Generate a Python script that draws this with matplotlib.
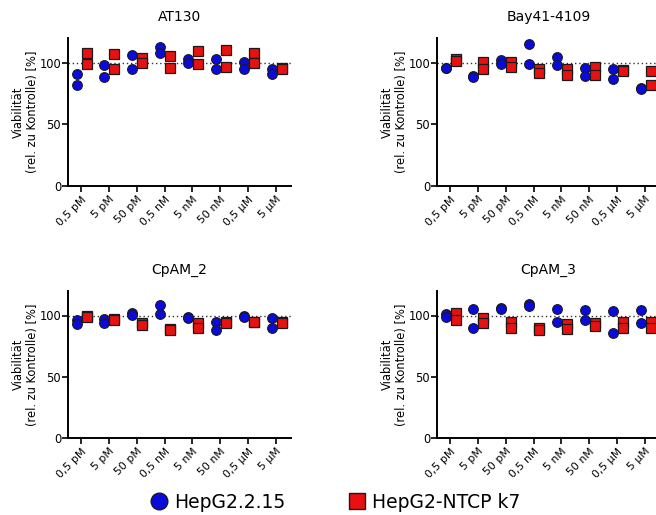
import matplotlib
matplotlib.use("Agg")
import matplotlib.pyplot as plt
from matplotlib.lines import Line2D
import numpy as np

plt.rcParams['font.family'] = ['DejaVu Sans']

concentrations = ["0,5 pM", "5 pM", "50 pM", "0,5 nM", "5 nM", "50 nM", "0,5 µM", "5 µM"]
series_names = ["HepG2.2.15", "HepG2-NTCP k7"]

# replicate values per concentration (two replicates each)
at130_hepg2215 = [[90.8, 82.1], [98.4, 88.6], [106.5, 95.1], [112.8, 107.6],
                  [102.7, 99.7], [102.7, 94.8], [100.5, 94.6], [94.6, 91.1]]
at130_ntcp = [[107.9, 98.9], [107.0, 94.6], [103.8, 99.4], [105.4, 95.9],
              [109.2, 98.9], [110.0, 96.2], [107.9, 100.0], [95.6, 94.6]]

bay_hepg2215 = [[96.0, 95.4], [89.0, 88.4], [101.9, 98.9], [115.2, 98.9],
                [104.6, 97.8], [95.4, 89.2], [95.1, 87.0], [79.7, 78.9]]
bay_ntcp = [[103.0, 101.4], [100.2, 94.6], [100.5, 96.2], [94.6, 91.3],
            [95.1, 89.7], [96.5, 90.2], [94.0, 93.4], [93.5, 82.1]]

cpam2_hepg2215 = [[96.4, 92.9], [97.3, 93.5], [102.4, 100.5], [108.9, 101.0],
                  [98.9, 97.8], [94.8, 88.0], [99.5, 98.4], [97.6, 89.4]]
cpam2_ntcp = [[99.2, 98.6], [97.0, 96.4], [94.0, 91.9], [89.1, 87.8],
              [94.0, 89.7], [94.3, 93.8], [95.1, 94.6], [94.6, 94.0]]

cpam3_hepg2215 = [[101.4, 98.4], [105.2, 90.0], [106.3, 104.9], [109.5, 107.6],
                  [105.2, 95.1], [104.4, 96.2], [103.8, 85.7], [104.1, 94.0]]
cpam3_ntcp = [[102.2, 96.0], [97.9, 93.5], [95.1, 90.2], [89.8, 87.8],
              [93.3, 88.6], [93.5, 91.4], [95.1, 89.8], [94.6, 89.8]]

panels = [
    ("AT130", at130_hepg2215, at130_ntcp),
    ("Bay41-4109", bay_hepg2215, bay_ntcp),
    ("CpAM_2", cpam2_hepg2215, cpam2_ntcp),
    ("CpAM_3", cpam3_hepg2215, cpam3_ntcp),
]

W, H = 656, 515
fig = plt.figure(figsize=(W / 100, H / 100), dpi=100)

# axes boxes in pixels: (left, top, right, bottom)
boxes = [(68, 38, 291, 186), (437, 38, 660, 186),
         (68, 291, 291, 438), (437, 291, 660, 438)]

blue = "#0a0adc"
red = "#e81010"
edge = "#1a1a1a"

for (title, s1, s2), (l, t, r, b) in zip(panels, boxes):
    ax = fig.add_axes([l / W, (H - b) / H, (r - l) / W, (b - t) / H])
    x = np.arange(len(concentrations))
    for i in range(len(concentrations)):
        ax.plot([x[i] - 0.16] * len(s1[i]), s1[i], 'o', ms=7, mfc=blue,
                mec=edge, mew=0.8, ls='none', zorder=3, clip_on=False)
        ax.plot([x[i] + 0.2] * len(s2[i]), s2[i], 's', ms=7, mfc=red,
                mec=edge, mew=0.9, ls='none', zorder=3, clip_on=False)
    ax.axhline(100, color="#333333", ls=(0, (1, 2.0)), lw=1.0, zorder=1)
    ax.set_xlim(-0.47, 7.54)
    ax.set_ylim(0, 120)
    ax.set_yticks([0, 50, 100])
    ax.set_xticks(x)
    ax.set_xticklabels(concentrations, rotation=45, ha='right',
                       rotation_mode='anchor', fontsize=7.8)
    ax.tick_params(axis='y', labelsize=8.3, length=4, width=1.2, pad=1)
    ax.tick_params(axis='x', length=4, width=1.2, pad=2)
    for sp in ['top', 'right']:
        ax.spines[sp].set_visible(False)
    for sp in ['left', 'bottom']:
        ax.spines[sp].set_linewidth(1.4)
    ax.set_title(title, fontsize=10, pad=12)
    ax.set_ylabel("Viabilität\n(rel. zu Kontrolle) [%]", fontsize=8.3,
                  labelpad=0, linespacing=1.1)

handles = [
    Line2D([], [], marker='o', ls='none', ms=12, mfc=blue, mec=edge, mew=1.0),
    Line2D([], [], marker='s', ls='none', ms=12, mfc=red, mec=edge, mew=1.0),
]
fig.legend(handles, series_names, loc='center', bbox_to_anchor=(0.51, 0.025),
           ncol=2, frameon=False, fontsize=13.5, handletextpad=0.25,
           columnspacing=3.3, handlelength=1.1)

fig.savefig("out.png", dpi=100)
